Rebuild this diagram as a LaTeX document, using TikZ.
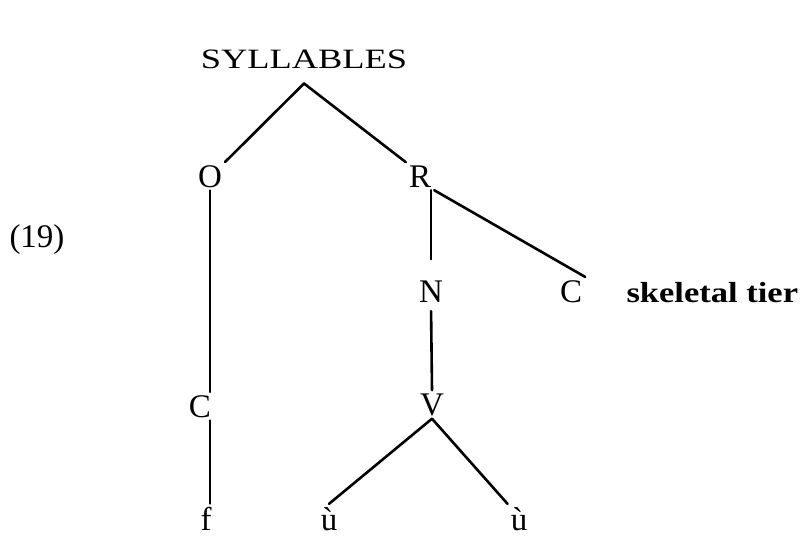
\documentclass[tikz,border=0pt]{standalone}
\usepackage{fontspec}
\setmainfont{Liberation Serif}

\begin{document}
\begin{tikzpicture}[
    x=1pt, y=-1pt,
    seg/.style={font=\fontsize{33}{36}\selectfont, inner sep=3pt, anchor=base},
    branch/.style={line width=2.6pt, line cap=round, color=black}
]
    \useasboundingbox (0,0) rectangle (805,541);

    % Nodes
    \node[inner sep=3pt, anchor=base, font=\fontsize{28}{32}\selectfont] (syl) at (304,68) {\scalebox{1.3}[1]{SYLLABLES}};
    \coordinate (apex) at ([yshift=-12pt]syl.south);
    \node[seg] (onset) at (210,187) {O};
    \node[seg] (rhyme) at (420,187) {R};
    \node[seg] (nucleus) at (431,302) {N};
    \node[seg] (coda) at (571,302) {C};
    \node[seg] (onsetC) at (200,417) {C};
    \node[seg] (vowel) at (432,415) {V};
    \node[seg] (f) at (206,530) {f};
    \node[seg] (u1) at (329,530) {ù};
    \node[seg] (u2) at (519,530) {ù};
    \node[seg] (num) at (37,247) {(19)};
    \node[anchor=base west, font=\fontsize{29}{34}\selectfont\bfseries] (tier) at (623,302) {\scalebox{1.19}[1]{skeletal tier}};

    % Branches
    \draw[branch] (apex) -- (onset.north east);
    \draw[branch] (apex) -- (rhyme.north west);
    \draw[branch] (onset.south) -- (onset.south |- onsetC.north);
    \draw[branch] (onsetC.south -| onset.south) -- (f.north -| onset.south);
    \draw[branch, shorten >=18pt] (rhyme.south -| nucleus) -- (nucleus.north);
    \draw[branch] (rhyme.south east) -- (coda.north east);
    \draw[branch, shorten <=6pt] (nucleus.south) -- (vowel.north);
    \draw[branch] (vowel.south) -- (u1.north);
    \draw[branch] (vowel.south) -- (u2.north west);

\end{tikzpicture}
\end{document}
